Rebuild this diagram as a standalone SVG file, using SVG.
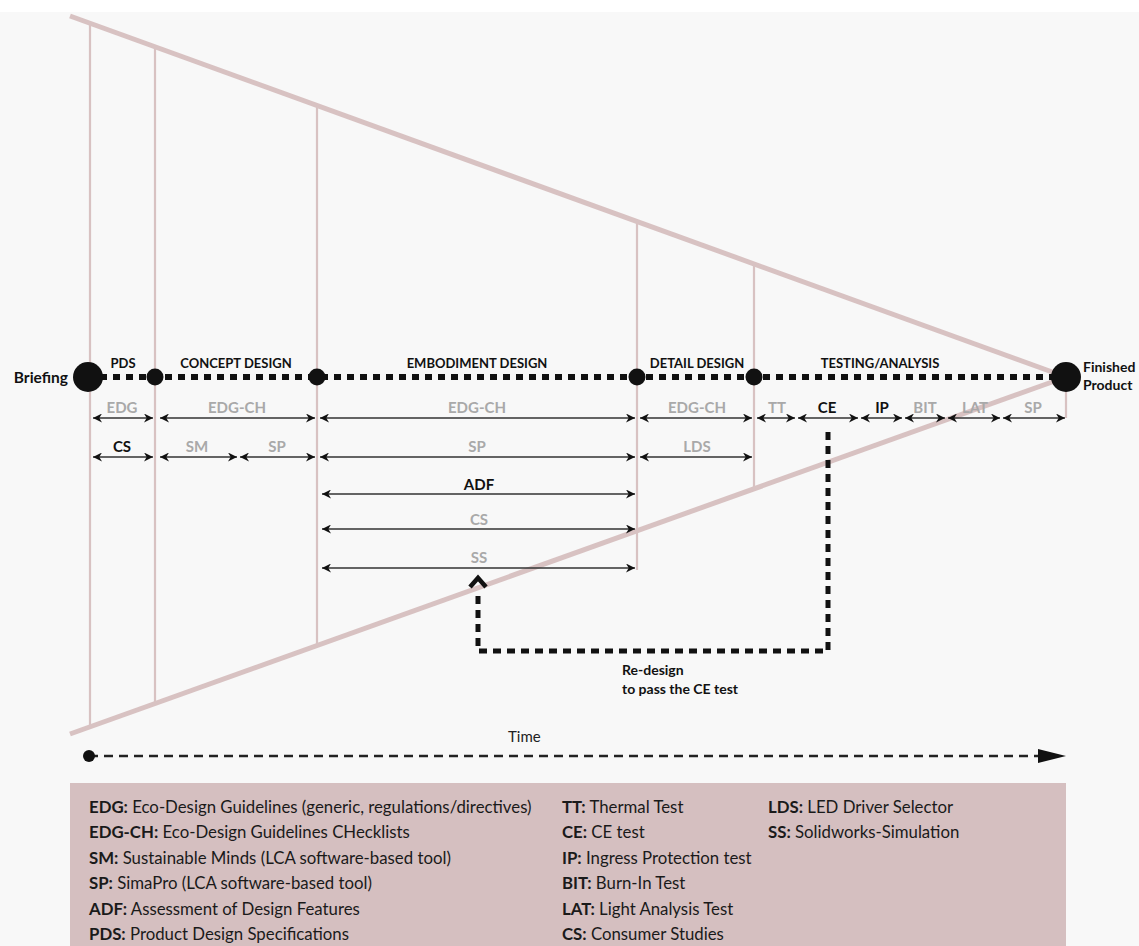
<svg xmlns="http://www.w3.org/2000/svg" width="1139" height="946" viewBox="0 0 1139 946">
<style>
.frame{stroke:#d8c2c2;fill:none}
.diag{stroke-width:5}
.vert{stroke-width:2.2}
.phase{font-family:Lato,"Liberation Sans",sans-serif;font-weight:bold;font-size:13px;fill:#111;text-anchor:middle}
.lbl{font-family:Lato,"Liberation Sans",sans-serif;font-weight:bold;font-size:15px;text-anchor:middle}
.g{fill:#a9a9a9}
.k{fill:#111}
.arr{stroke:#333;stroke-width:1.3;marker-start:url(#ah);marker-end:url(#ah)}
.leg{font-family:Lato,"Liberation Sans",sans-serif;font-size:16.8px;fill:#1a1a1a}
.leg tspan.b{font-weight:bold}
.note{font-family:Lato,"Liberation Sans",sans-serif;font-weight:bold;font-size:14px;fill:#111}
</style>
<defs>
<marker id="ah" viewBox="0 0 10 10" refX="10" refY="5" markerWidth="9" markerHeight="9" markerUnits="userSpaceOnUse" orient="auto-start-reverse">
<path d="M0,0 L10,5 L0,10 L3,5 z" fill="#111"/>
</marker>
</defs>
<rect x="0" y="0" width="1139" height="946" fill="#ffffff"/>
<rect x="0" y="12" width="1139" height="934" fill="#f8f8f8"/>

<g id="funnel">
<line class="frame diag" x1="70" y1="16" x2="1066" y2="377"/>
<line class="frame diag" x1="70" y1="734" x2="1066" y2="377"/>
<line class="frame vert" x1="90" y1="23" x2="90" y2="727"/>
<line class="frame vert" x1="155" y1="47" x2="155" y2="704"/>
<line class="frame vert" x1="317" y1="105" x2="317" y2="646"/>
<line class="frame vert" x1="637" y1="221" x2="637" y2="570"/>
<line class="frame vert" x1="754" y1="264" x2="754" y2="489"/>
<line class="frame vert" x1="1066" y1="377" x2="1066" y2="418"/>
</g>

<g id="connectors">
<line x1="100" y1="377" x2="1052" y2="377" stroke="#111" stroke-width="6" stroke-dasharray="7 6"/>
<path d="M828,432 V651 H478 V590" fill="none" stroke="#111" stroke-width="5" stroke-dasharray="8 6"/>
<polyline points="470,587 478,578 486,587" fill="none" stroke="#111" stroke-width="4.5"/>
<line x1="89" y1="756" x2="1040" y2="756" stroke="#222" stroke-width="2.5" stroke-dasharray="9 6"/>
<polygon points="1038,749 1066,756 1038,763" fill="#111"/>
<circle cx="89" cy="756" r="6" fill="#111"/>
</g>

<g id="node-briefing">
<circle cx="88" cy="377" r="15" fill="#111"/>
<text x="68" y="383" text-anchor="end" font-family="Lato,'Liberation Sans',sans-serif" font-weight="bold" font-size="15.5" fill="#111">Briefing</text>
</g>
<g id="node-pds"><circle cx="155" cy="377" r="8.5" fill="#111"/><text class="phase" x="123" y="368">PDS</text></g>
<g id="node-concept"><circle cx="317" cy="377" r="8.5" fill="#111"/><text class="phase" x="236" y="368">CONCEPT DESIGN</text></g>
<g id="node-embodiment"><circle cx="637" cy="377" r="8.5" fill="#111"/><text class="phase" x="477" y="368">EMBODIMENT DESIGN</text></g>
<g id="node-detail"><circle cx="754" cy="377" r="8.5" fill="#111"/><text class="phase" x="697" y="368">DETAIL DESIGN</text></g>
<g id="node-testing"><text class="phase" x="880" y="368">TESTING/ANALYSIS</text></g>
<g id="node-finished">
<circle cx="1066" cy="377" r="15" fill="#111"/>
<text x="1083" y="372" font-family="Lato,'Liberation Sans',sans-serif" font-weight="bold" font-size="14" fill="#111">Finished</text>
<text x="1083" y="390" font-family="Lato,'Liberation Sans',sans-serif" font-weight="bold" font-size="14" fill="#111">Product</text>
</g>

<g id="tools">
<line class="arr" x1="93" y1="418" x2="153" y2="418"/><text class="lbl g" x="122" y="413">EDG</text>
<line class="arr" x1="160" y1="418" x2="315" y2="418"/><text class="lbl g" x="237" y="413">EDG-CH</text>
<line class="arr" x1="320" y1="418" x2="635" y2="418"/><text class="lbl g" x="477" y="413">EDG-CH</text>
<line class="arr" x1="640" y1="418" x2="752" y2="418"/><text class="lbl g" x="697" y="413">EDG-CH</text>
<line class="arr" x1="757" y1="418" x2="795" y2="418"/><text class="lbl g" x="777" y="413">TT</text>
<line class="arr" x1="798" y1="418" x2="858" y2="418"/><text class="lbl k" x="827" y="413">CE</text>
<line class="arr" x1="861" y1="418" x2="902" y2="418"/><text class="lbl k" x="882" y="413">IP</text>
<line class="arr" x1="905" y1="418" x2="945" y2="418"/><text class="lbl g" x="925" y="413">BIT</text>
<line class="arr" x1="948" y1="418" x2="1000" y2="418"/><text class="lbl g" x="975" y="413">LAT</text>
<line class="arr" x1="1003" y1="418" x2="1065" y2="418"/><text class="lbl g" x="1033" y="413">SP</text>

<line class="arr" x1="93" y1="457" x2="153" y2="457"/><text class="lbl k" x="122" y="452">CS</text>
<line class="arr" x1="160" y1="457" x2="237" y2="457"/><text class="lbl g" x="197" y="452">SM</text>
<line class="arr" x1="240" y1="457" x2="315" y2="457"/><text class="lbl g" x="277" y="452">SP</text>
<line class="arr" x1="320" y1="457" x2="635" y2="457"/><text class="lbl g" x="477" y="452">SP</text>
<line class="arr" x1="640" y1="457" x2="752" y2="457"/><text class="lbl g" x="697" y="452">LDS</text>

<line class="arr" x1="322" y1="494" x2="635" y2="494"/><text class="lbl k" x="479" y="490">ADF</text>
<line class="arr" x1="322" y1="529" x2="635" y2="529"/><text class="lbl g" x="479" y="525">CS</text>
<line class="arr" x1="322" y1="568" x2="635" y2="568"/><text class="lbl g" x="479" y="563">SS</text>
</g>

<g id="redesign-note">
<text class="note" x="622" y="675">Re-design</text>
<text class="note" x="622" y="694">to pass the CE test</text>
</g>
<g id="time-label">
<text x="508" y="742" font-family="Lato,'Liberation Sans',sans-serif" font-size="15" fill="#222">Time</text>
</g>

<g id="legend">
<rect x="70" y="783" width="996" height="163" fill="#d5bfc0"/>
<text class="leg" x="89" y="813"><tspan class="b">EDG:</tspan> Eco-Design Guidelines (generic, regulations/directives)</text>
<text class="leg" x="89" y="838"><tspan class="b">EDG-CH:</tspan> Eco-Design Guidelines CHecklists</text>
<text class="leg" x="89" y="864"><tspan class="b">SM:</tspan> Sustainable Minds (LCA software-based tool)</text>
<text class="leg" x="89" y="889"><tspan class="b">SP:</tspan> SimaPro (LCA software-based tool)</text>
<text class="leg" x="89" y="915"><tspan class="b">ADF:</tspan> Assessment of Design Features</text>
<text class="leg" x="89" y="940"><tspan class="b">PDS:</tspan> Product Design Specifications</text>
<text class="leg" x="562" y="813"><tspan class="b">TT:</tspan> Thermal Test</text>
<text class="leg" x="562" y="838"><tspan class="b">CE:</tspan> CE test</text>
<text class="leg" x="562" y="864"><tspan class="b">IP:</tspan> Ingress Protection test</text>
<text class="leg" x="562" y="889"><tspan class="b">BIT:</tspan> Burn-In Test</text>
<text class="leg" x="562" y="915"><tspan class="b">LAT:</tspan> Light Analysis Test</text>
<text class="leg" x="562" y="940"><tspan class="b">CS:</tspan> Consumer Studies</text>
<text class="leg" x="768" y="813"><tspan class="b">LDS:</tspan> LED Driver Selector</text>
<text class="leg" x="768" y="838"><tspan class="b">SS:</tspan> Solidworks-Simulation</text>
</g>
</svg>
